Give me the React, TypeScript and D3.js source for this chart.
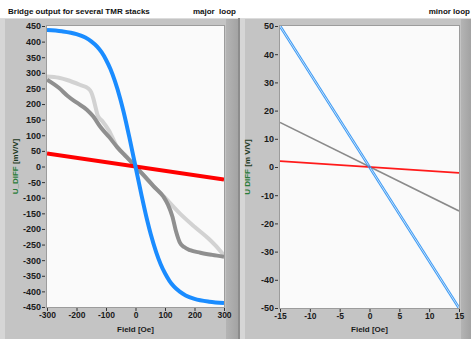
import { useRef, useEffect } from "react";
import * as d3 from "d3";

// major loop (-300..300 Oe)
const blueField = [-300, -250, -200, -170, -150, -130, -115, -100, -85, -70, -52, -40, -20, 0, 20, 40, 52, 70, 85, 100, 115, 130, 150, 170, 200, 250, 300];
const blueVal = [437, 433, 424, 413, 401, 384, 366, 342, 312, 274, 218, 174, 90, 0, -90, -174, -218, -274, -312, -342, -366, -384, -401, -413, -424, -433, -437];

const redField = [-300, 300];
const redVal = [42, -42];

const darkField = [-300, -260, -230, -200, -165, -143, -120, -90, -62, -30, 0, 30, 60, 95, 110, 125, 138, 150, 165, 185, 220, 260, 300];
const darkVal = [278, 252, 226, 205, 182, 160, 128, 95, 62, 30, 0, -30, -62, -97, -122, -160, -210, -243, -258, -268, -276, -283, -289];

const lightField = [-300, -260, -232, -187, -160, -150, -142, -135, -128, -112, -90, -62, -30, 0, 50, 100, 150, 200, 250, 270, 300];
const lightVal = [288, 284, 277, 261, 250, 238, 215, 188, 163, 145, 115, 62, 32, 0, -52, -100, -150, -193, -233, -252, -285];

// minor loop (-15..15 Oe)
const minorField = [-15, 15];
const minorBlueUp = [50.55, -49.45];
const minorBlueDown = [49.45, -50.55];
const minorRed = [2.1, -2.1];
const minorGrey = [15.8, -15.6];

const majorXTicks = [-300, -200, -100, 0, 100, 200, 300];
const majorYTicks = d3.range(-450, 451, 50);
const minorXTicks = [-15, -10, -5, 0, 5, 10, 15];
const minorYTicks = [-50, -40, -30, -20, -10, 0, 10, 20, 30, 40, 50];

const FONT = "'Liberation Sans', Arial, sans-serif";

type Series = { x: number[]; y: number[]; color: string; width: number; curve: boolean };

interface PanelDef {
  x0: number;
  x1: number;
  plot: { left: number; right: number; top: number; bottom: number };
  xDomain: [number, number];
  yDomain: [number, number];
  xTicks: number[];
  yTicks: number[];
  yLabelX: number;
  yLabelMain: string;
  series: Series[];
  id: string;
}

export default function App() {
  const svgRef = useRef<SVGSVGElement>(null);

  useEffect(() => {
    if (!svgRef.current) return;
    const svg = d3.select(svgRef.current);
    svg.selectAll("*").remove();

    const W = 471;
    const H = 339;

    svg.append("rect").attr("width", W).attr("height", H).attr("fill", "#ffffff");

    const panels: PanelDef[] = [
      {
        id: "major",
        x0: 0,
        x1: 239,
        plot: { left: 47, right: 224, top: 26, bottom: 307 },
        xDomain: [-300, 300],
        yDomain: [-450, 450],
        xTicks: majorXTicks,
        yTicks: majorYTicks,
        yLabelX: 18,
        yLabelMain: "U_DIFF",
        series: [
          { x: lightField, y: lightVal, color: "#d2d2d2", width: 4, curve: true },
          { x: darkField, y: darkVal, color: "#8f8f8f", width: 4, curve: true },
          { x: redField, y: redVal, color: "#ff0000", width: 4, curve: false },
          { x: blueField, y: blueVal, color: "#1a8cff", width: 4, curve: true },
        ],
      },
      {
        id: "minor",
        x0: 240,
        x1: 471,
        plot: { left: 280, right: 459, top: 26, bottom: 308 },
        xDomain: [-15, 15],
        yDomain: [-50, 50],
        xTicks: minorXTicks,
        yTicks: minorYTicks,
        yLabelX: 250,
        yLabelMain: "U DIFF",
        series: [
          { x: minorField, y: minorGrey, color: "#8a8a8a", width: 1.6, curve: false },
          { x: minorField, y: minorRed, color: "#ff1a1a", width: 1.6, curve: false },
          { x: minorField, y: minorBlueUp, color: "#3f9cf5", width: 1.1, curve: false },
          { x: minorField, y: minorBlueDown, color: "#3f9cf5", width: 1.1, curve: false },
        ],
      },
    ];

    const defs = svg.append("defs");
    const grad = defs
      .append("linearGradient")
      .attr("id", "strip")
      .attr("x1", 0)
      .attr("x2", 1);
    grad.append("stop").attr("offset", 0).attr("stop-color", "#b4b4b4");
    grad.append("stop").attr("offset", 1).attr("stop-color", "#a2a2a2");

    panels.forEach((p) => {
      const { plot } = p;
      // panel frame
      svg.append("rect")
        .attr("x", p.x0).attr("y", 18)
        .attr("width", p.x1 - p.x0).attr("height", H - 18)
        .attr("fill", "#c4c4c4");
      svg.append("rect")
        .attr("x", p.x0).attr("y", 18)
        .attr("width", 5).attr("height", H - 18)
        .attr("fill", "#d6d6d6");
      svg.append("rect")
        .attr("x", plot.right + 2).attr("y", 18)
        .attr("width", p.x1 - plot.right - 2).attr("height", H - 18)
        .attr("fill", "url(#strip)");
      svg.append("line")
        .attr("x1", p.x0).attr("x2", p.x1)
        .attr("y1", 18.5).attr("y2", 18.5)
        .attr("stroke", "#dcdcdc");

      // plot area
      svg.append("rect")
        .attr("x", plot.left).attr("y", plot.top)
        .attr("width", plot.right - plot.left).attr("height", plot.bottom - plot.top)
        .attr("fill", "#fafafa");
      svg.append("rect")
        .attr("x", plot.left - 0.5).attr("y", plot.top - 0.5)
        .attr("width", plot.right - plot.left + 1).attr("height", plot.bottom - plot.top + 1)
        .attr("fill", "none")
        .attr("stroke", "#9c9c9c");

      const x = d3.scaleLinear().domain(p.xDomain).range([plot.left, plot.right]);
      const y = d3.scaleLinear().domain(p.yDomain).range([plot.bottom, plot.top]);

      defs.append("clipPath").attr("id", `clip-${p.id}`)
        .append("rect")
        .attr("x", plot.left).attr("y", plot.top)
        .attr("width", plot.right - plot.left).attr("height", plot.bottom - plot.top);

      // y axis
      const yAxis = svg.append("g")
        .attr("transform", `translate(${plot.left - 2},0)`)
        .call(d3.axisLeft(y).tickValues(p.yTicks).tickSize(3).tickPadding(1).tickFormat((d) => `${d}`));
      yAxis.select(".domain").remove();
      yAxis.selectAll("line").attr("stroke", "#333");
      yAxis.selectAll("text")
        .attr("fill", "#1a1a1a")
        .attr("font-size", 9)
        .attr("font-weight", "bold")
        .attr("font-family", FONT);

      // x axis
      const xAxis = svg.append("g")
        .attr("transform", `translate(0,${plot.bottom + 1})`)
        .call(d3.axisBottom(x).tickValues(p.xTicks).tickSize(3).tickPadding(1).tickFormat((d) => `${d}`));
      xAxis.select(".domain").remove();
      xAxis.selectAll("line").attr("stroke", "#333");
      xAxis.selectAll("text")
        .attr("fill", "#1a1a1a")
        .attr("font-size", 8.5)
        .attr("font-weight", "bold")
        .attr("font-family", FONT);

      svg.append("text")
        .attr("x", (plot.left + plot.right) / 2)
        .attr("y", 332)
        .attr("text-anchor", "middle")
        .attr("fill", "#1a1a1a")
        .attr("font-size", 8)
        .attr("font-weight", "bold")
        .attr("font-family", FONT)
        .text("Field [Oe]");

      const yl = svg.append("text")
        .attr("transform", `translate(${p.yLabelX},${(plot.top + plot.bottom) / 2}) rotate(-90)`)
        .attr("text-anchor", "middle")
        .attr("font-size", 8)
        .attr("font-weight", "bold")
        .attr("font-family", FONT);
      yl.append("tspan").attr("fill", "#2a7d3a").text(p.yLabelMain);
      yl.append("tspan").attr("fill", "#1d3a22").text(p.id === "major" ? " [mV/V]" : " [m V/V]");

      // series
      const g = svg.append("g").attr("clip-path", `url(#clip-${p.id})`);
      p.series.forEach((s) => {
        const pts: [number, number][] = s.x.map((v, i) => [v, s.y[i]]);
        const line = d3.line<[number, number]>()
          .x((d) => x(d[0]))
          .y((d) => y(d[1]))
          .curve(s.curve ? d3.curveMonotoneX : d3.curveLinear);
        g.append("path")
          .datum(pts)
          .attr("fill", "none")
          .attr("stroke", s.color)
          .attr("stroke-width", s.width)
          .attr("stroke-linejoin", "round")
          .attr("d", line);
      });
    });

    // separator between panels
    svg.append("rect").attr("x", 238).attr("y", 18).attr("width", 2).attr("height", H - 18).attr("fill", "#8c8c8c");

    // headers
    const header = (tx: number, anchor: string, label: string) =>
      svg.append("text")
        .attr("x", tx).attr("y", 14)
        .attr("text-anchor", anchor)
        .attr("fill", "#111")
        .attr("font-size", 8)
        .attr("font-weight", "bold")
        .attr("font-family", FONT)
        .text(label);
    header(8, "start", "Bridge output for several TMR stacks");
    header(236, "end", "major  loop").attr("xml:space", "preserve").style("white-space", "pre");
    header(470, "end", "minor loop");
  }, []);

  return (
    <svg
      ref={svgRef}
      width={471}
      height={339}
      style={{ position: "fixed", left: 0, top: 0, display: "block" }}
    />
  );
}
